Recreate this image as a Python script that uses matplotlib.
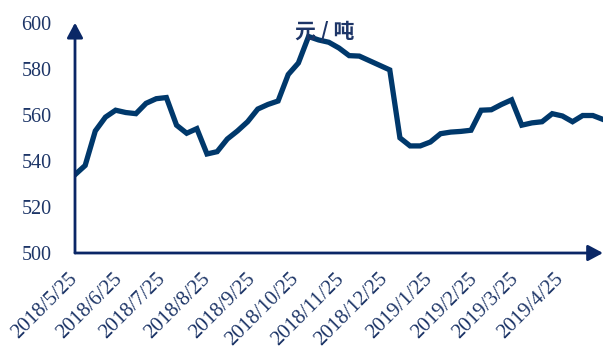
import matplotlib.pyplot as plt
import matplotlib.transforms as mtransforms
import pandas as pd

# weekly price, 元/吨
start_date = "2018-05-25"
prices = [534, 538, 553, 559, 562, 561, 560.5, 565, 567, 567.5,
          555.5, 552, 554, 543, 544, 549.5, 553, 557, 562.5, 564.5,
          566, 577.5, 582.5, 594, 592.5, 591.5, 589, 585.7, 585.5, 583.5,
          581.5, 579.5, 550, 546.5, 546.5, 548.2, 551.8, 552.5, 552.8, 553.3,
          562, 562.2, 564.5, 566.5, 555.5, 556.5, 557, 560.5, 559.5, 557,
          559.7, 559.7, 558]
dates = pd.date_range(start_date, periods=len(prices), freq="7D")
tick_dates = pd.date_range("2018-05-01", "2019-04-01", freq="MS") + pd.Timedelta(days=24)
tick_labels = [f"{d.year}/{d.month}/{d.day}" for d in tick_dates]
yticks = [500, 520, 540, 560, 580, 600]

line_color = "#00386b"
axis_color = "#0a2766"
text_color = "#1d3567"

plt.rcParams["font.family"] = ["Liberation Serif", "Noto Sans CJK SC"]

fig = plt.figure(figsize=(6.03, 3.51), dpi=100)
ax = fig.add_axes([75 / 603, 1 - 253 / 351, 528 / 603, (253 - 22.7) / 351])

ax.plot(dates, prices, color=line_color, lw=3.8, solid_joinstyle="miter")

ax.set_xlim(pd.Timestamp("2018-05-25"), pd.Timestamp("2019-05-24"))
ax.set_ylim(500, 600)
ax.set_yticks(yticks)
ax.set_xticks(tick_dates)
ax.set_xticklabels(tick_labels, rotation=45, ha="right", va="top")

for s in ax.spines.values():
    s.set_visible(False)
ax.tick_params(axis="both", length=0, colors=text_color)
ax.tick_params(axis="y", pad=17, labelsize=14.5)
ax.tick_params(axis="x", pad=12, labelsize=15)

# shift date labels slightly right
offset = mtransforms.ScaledTranslation(6 / 100, 0, fig.dpi_scale_trans)
for lbl in ax.get_xticklabels():
    lbl.set_transform(lbl.get_transform() + offset)

# axes with arrow heads
arrow = dict(arrowstyle="-|>,head_length=0.45,head_width=0.24",
             color=axis_color, lw=2, mutation_scale=20, shrinkA=0, shrinkB=0)
ax.annotate("", xy=(1, 0), xytext=(0, 0), xycoords="axes fraction",
            arrowprops=arrow, annotation_clip=False)
ax.annotate("", xy=(0, 1), xytext=(0, 0), xycoords="axes fraction",
            arrowprops=arrow, annotation_clip=False)

fig.text(325 / 603, 1 - 31 / 351, "元 / 吨", ha="center", va="center",
         fontsize=15, fontweight="bold", color=text_color,
         family=["Noto Sans CJK SC"])

fig.savefig("out.png", dpi=100)
